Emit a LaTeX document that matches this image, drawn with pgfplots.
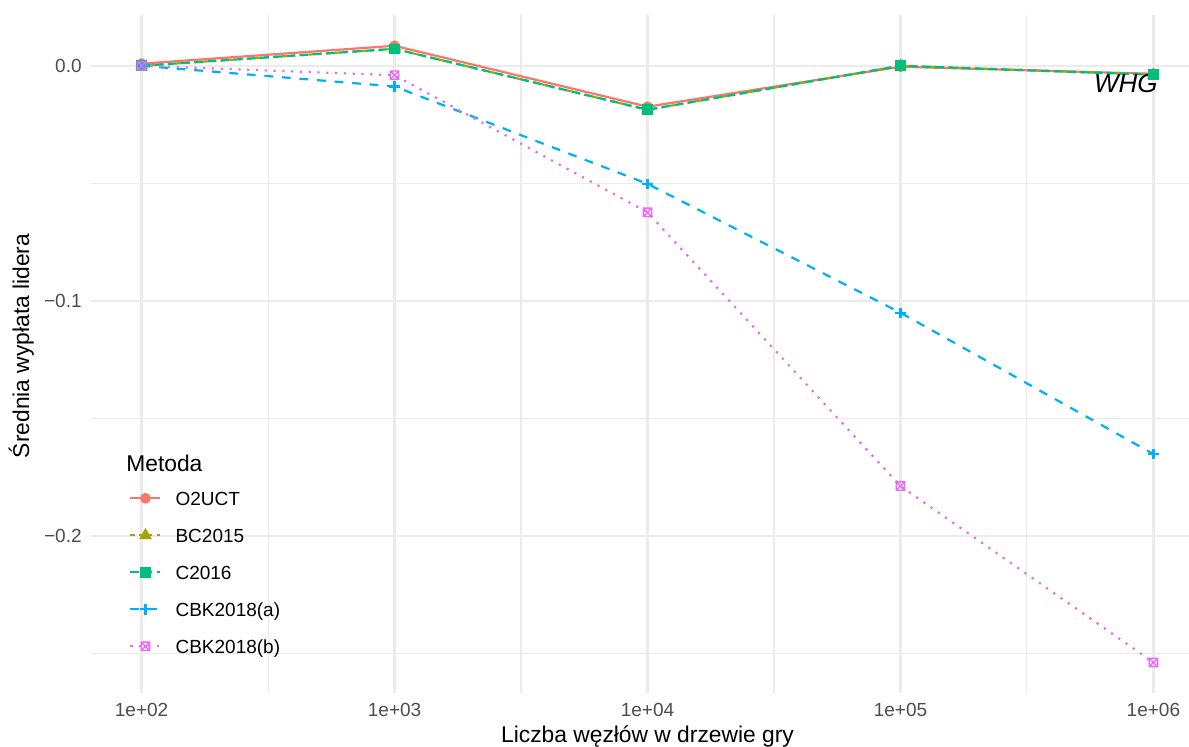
\documentclass[border=0pt]{standalone}
\usepackage{pgfplots}
\pgfplotsset{compat=1.18}
\usepackage{fontspec}
\setmainfont{Liberation Sans}
\definecolor{cO}{HTML}{F8766D}
\definecolor{cB}{HTML}{A3A500}
\definecolor{cC}{HTML}{00BF7D}
\definecolor{cKa}{HTML}{00B0F6}
\definecolor{cKb}{HTML}{E76BF3}
\definecolor{gridc}{HTML}{EBEBEB}
\definecolor{tickc}{HTML}{4D4D4D}
\pgfdeclareplotmark{sqx}{%
  \pgfpathrectangle{\pgfqpoint{-\pgfplotmarksize}{-\pgfplotmarksize}}{\pgfqpoint{2\pgfplotmarksize}{2\pgfplotmarksize}}%
  \pgfpathmoveto{\pgfqpoint{-\pgfplotmarksize}{-\pgfplotmarksize}}\pgfpathlineto{\pgfqpoint{\pgfplotmarksize}{\pgfplotmarksize}}%
  \pgfpathmoveto{\pgfqpoint{-\pgfplotmarksize}{\pgfplotmarksize}}\pgfpathlineto{\pgfqpoint{\pgfplotmarksize}{-\pgfplotmarksize}}%
  \pgfusepathqstroke}
\begin{document}
\begin{tikzpicture}
\path[use as bounding box, clip] (-45.5pt,-27pt) rectangle (549pt,346.5pt);
\fill[white] (-45.5pt,-27pt) rectangle (549pt,346.5pt);
\begin{axis}[
  at={(0,0)}, anchor=south west,
  scale only axis, width=556.5pt, height=339pt,
  xmode=log, log basis x=10,
  xmin=63.0957, xmax=1584893,
  ymin=-0.2667, ymax=0.0216,
  axis line style={draw=none},
  major tick length=0pt, minor tick length=0pt,
  xtick={100,1000,10000,100000,1000000},
  xticklabels={1e+02,1e+03,1e+04,1e+05,1e+06},
  minor xtick={316.228,3162.28,31622.8,316228},
  ytick={0,-0.1,-0.2},
  yticklabels={0.0,−0.1,−0.2},
  minor ytick={-0.25,-0.15,-0.05},
  grid=both,
  major grid style={gridc, line width=1.1pt},
  minor grid style={gridc, line width=0.55pt},
  tick label style={font=\fontsize{9.5}{11}\selectfont, text=tickc, inner sep=0pt},
  xticklabel shift=5pt, yticklabel shift=4.5pt,
  xlabel={\fontsize{11.4}{13}\selectfont Liczba węzłów w drzewie gry},
  ylabel={\fontsize{11.4}{13}\selectfont Średnia wypłata lidera},
  every axis x label/.style={at={(axis description cs:0.5,-0.0737)}, anchor=base, inner sep=0pt},
  every axis y label/.style={at={(axis description cs:-0.0557,0.5118)}, rotate=90, anchor=base, inner sep=0pt},
  legend style={at={(rel axis cs:0.0341,0.298)}, anchor=north west, draw=none, fill=none,
    inner sep=0pt, row sep=11.5pt, column sep=7pt, font=\fontsize{9.5}{11}\selectfont,
    nodes={inner sep=0pt, text height=7pt, text depth=0pt}},
  legend cell align=left,
  legend image code/.code={\draw[mark repeat=2,mark phase=2] plot coordinates {(0pt,0pt) (7.5pt,0pt) (15pt,0pt)};},
  clip=false,
]
\addplot[cO, line width=1.1pt, solid, mark=*, mark size=2.1pt, mark options={solid}]
 coordinates {(100,0.0009) (1000,0.0085) (10000,-0.0174) (100000,-0.0004) (1000000,-0.0034)};
\addlegendentry{O2UCT}
\addplot[cB, line width=1.1pt, dash pattern=on 2.2pt off 2.2pt, mark=triangle*, mark size=2.6pt, mark options={solid}]
 coordinates {(100,0.0) (1000,0.0072) (10000,-0.0187) (100000,0.0) (1000000,-0.0038)};
\addlegendentry{BC2015}
\addplot[cC, line width=1.1pt, dash pattern=on 4.4pt off 2.2pt, mark=square*, mark size=2.1pt, mark options={solid}]
 coordinates {(100,0.0) (1000,0.0072) (10000,-0.0187) (100000,0.0) (1000000,-0.0038)};
\addlegendentry{C2016}
\addplot[cKa, line width=1.1pt, dash pattern=on 4.4pt off 4.4pt, mark=+, mark size=2.6pt, mark options={solid, line width=1.1pt}]
 coordinates {(100,0.0) (1000,-0.0088) (10000,-0.0502) (100000,-0.105) (1000000,-0.1651)};
\addlegendentry{CBK2018(a)}
\addplot[cKb, line width=1.1pt, dash pattern=on 1.1pt off 3.3pt, mark=sqx, mark size=2.1pt, mark options={solid, line width=0.7pt}]
 coordinates {(100,0.0) (1000,-0.0040) (10000,-0.0623) (100000,-0.1787) (1000000,-0.2537)};
\addlegendentry{CBK2018(b)}
\node[anchor=base west, font=\fontsize{11.4}{13}\selectfont, inner sep=0pt] at (rel axis cs:0.0314,0.3274) {Metoda};
\node[anchor=base east, font=\fontsize{13}{15}\selectfont\itshape, inner sep=0pt] at (rel axis cs:0.9587,0.8864) {WHG};
\end{axis}
\end{tikzpicture}
\end{document}
